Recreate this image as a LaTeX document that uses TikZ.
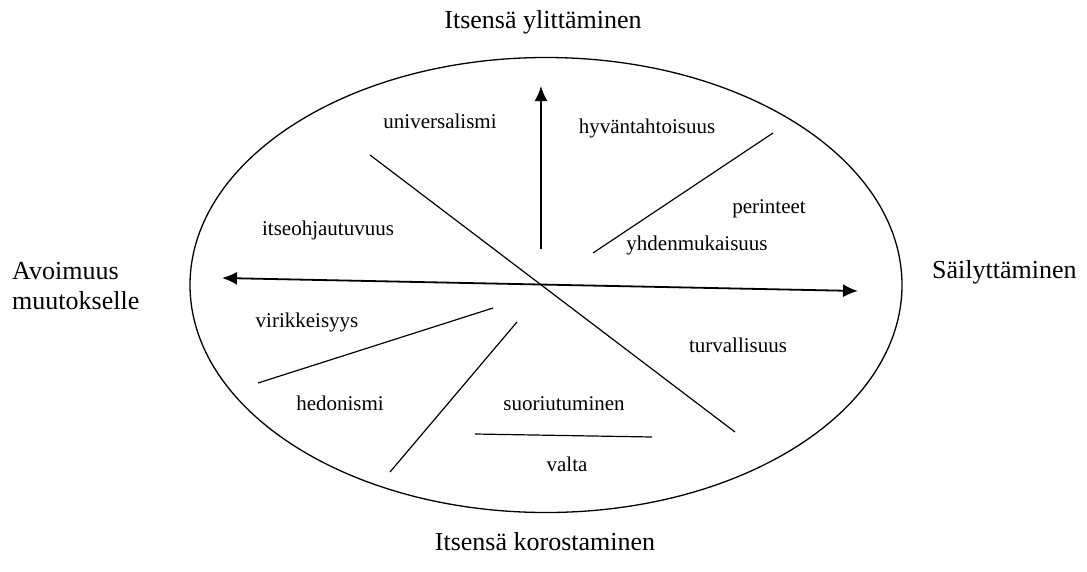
\documentclass[tikz,border=0pt]{standalone}
\usepackage{fontspec}
\setmainfont{Liberation Serif}
\usetikzlibrary{shapes.geometric, arrows.meta}

\begin{document}
\begin{tikzpicture}[
    x=1pt, y=-1pt,
    every node/.style={font=\fontsize{21}{24}\selectfont, inner sep=0pt},
    axis/.style={font=\fontsize{26}{30}\selectfont},
    sep/.style={line width=1.2pt},
    >={Latex[length=15pt,width=13pt]}
]
\useasboundingbox (0,0) rectangle (1087,571);

\node[ellipse, draw, line width=1.3pt, minimum width=712pt, minimum height=455pt] (oval) at (546,285) {};

% ulottuvuudet
\node[axis] (top) at (543,22) {Itsensä ylittäminen};
\node[axis] (bottom) at (545,542) {Itsensä korostaminen};
\node[axis, align=left, anchor=west] (left) at (12,286) {Avoimuus\\muutokselle};
\node[axis, anchor=west] (right) at (932,272) {Säilyttäminen};

% arvot
\node (univ) at (440,121) {universalismi};
\node (hyva) at (647,128) {hyväntahtoisuus};
\node (perin) at (769,209) {perinteet};
\node (itse) at (328,230) {itseohjautuvuus};
\node (yhden) at (697,245) {yhdenmukaisuus};
\node (virik) at (307,322) {virikkeisyys};
\node (turva) at (738,345) {turvallisuus};
\node (hedon) at (340,403) {hedonismi};
\node (suor) at (564,404) {suoriutuminen};
\node (valta) at (567,464) {valta};

% nuolet
\coordinate (vs) at (541,249);
\coordinate (ve) at (541,86);
\coordinate (hl) at (222,278);
\coordinate (hr) at (858,291);
\draw[line width=1.8pt, ->] (vs) -- (ve);
\draw[line width=1.8pt, <->] (hl) -- (hr);

% rajat
\coordinate (d1) at (370,155);
\coordinate (d2) at (735,432);
\coordinate (a1) at (593,253);
\coordinate (a2) at (773,133);
\coordinate (b1) at (258,383);
\coordinate (b2) at (493,308);
\coordinate (c1) at (390,472);
\coordinate (c2) at (517,322);
\coordinate (e1) at (475,434);
\coordinate (e2) at (652,437);
\draw[sep] (d1) -- (d2);
\draw[sep] (a1) -- (a2);
\draw[sep] (b1) -- (b2);
\draw[sep] (c1) -- (c2);
\draw[sep] (e1) -- (e2);

\end{tikzpicture}
\end{document}
